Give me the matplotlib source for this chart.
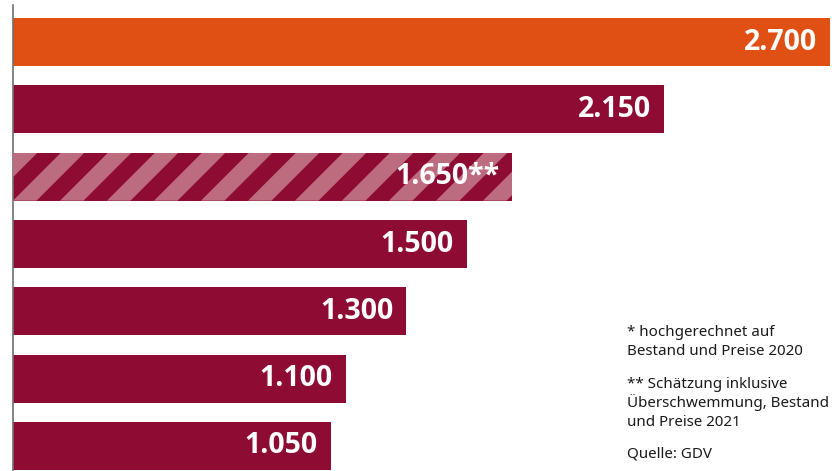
import matplotlib.pyplot as plt
from matplotlib.patches import Polygon

values = [2700, 2150, 1650, 1500, 1300, 1100, 1050]
labels = ["2.700", "2.150", "1.650**", "1.500", "1.300", "1.100", "1.050"]
colors = ["#E05014", "#8E0C33", "#8E0C33", "#8E0C33", "#8E0C33", "#8E0C33", "#8E0C33"]
striped = [False, False, True, False, False, False, False]

note_lines = [
    "* hochgerechnet auf",
    "Bestand und Preise 2020",
    "** Schätzung inklusive",
    "Überschwemmung, Bestand",
    "und Preise 2021",
    "Quelle: GDV",
]
note_base_px = [336, 355, 388, 407, 426, 457]

W, H = 838, 471
fig = plt.figure(figsize=(W / 100, H / 100), dpi=100)
ax = fig.add_axes([13 / W, 0, (830 - 13) / W, 466 / H])

bar_h = 0.713
pos = list(range(len(values)))
ax.set_xlim(0, 2700)
ax.set_ylim(6 + 25 / 67.33, -37 / 67.33)

bars = ax.barh(pos, values, height=bar_h, color=colors, zorder=2)

# diagonal stripes for the estimated bar
px_x = 2700 / (830 - 13)
px_y = 1 / 67.33
for b, s in zip(bars, striped):
    if not s:
        continue
    x0, y0 = b.get_x(), b.get_y()
    w, h = b.get_width(), b.get_height()
    hpx = h / px_y
    period = 47 * px_x
    stripe = 23.5 * px_x
    shift = hpx * px_x
    k = -3
    while k * period < w + shift:
        xs = k * period
        poly = Polygon(
            [(xs, y0 + h), (xs + stripe, y0 + h),
             (xs + stripe + shift, y0), (xs + shift, y0)],
            closed=True, facecolor="#BD6B7E", edgecolor="none", zorder=3,
        )
        ax.add_patch(poly)
        poly.set_clip_path(b)
        k += 1

for p, v, t in zip(pos, values, labels):
    ax.text(v - 13 * px_x, p, t, ha="right", va="center", color="white",
            fontsize=20.5, fontweight="bold", family="Open Sans", zorder=4)

for txt, ypx in zip(note_lines, note_base_px):
    fig.text(627 / W, 1 - ypx / H, txt, ha="left", va="baseline",
             fontsize=10.9, family="Noto Sans", color="#1a1a1a")

for sp in ["top", "right", "bottom"]:
    ax.spines[sp].set_visible(False)
ax.spines["left"].set_color("#707070")
ax.spines["left"].set_linewidth(1.2)
ax.set_xticks([])
ax.set_yticks([])

fig.savefig("out.png", dpi=100)
